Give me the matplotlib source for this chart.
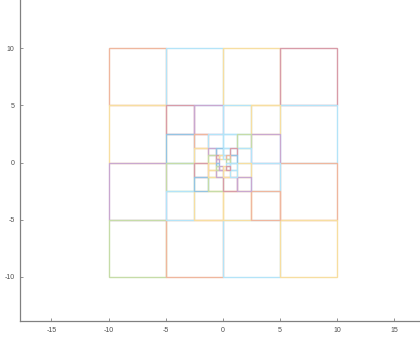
import matplotlib
matplotlib.use("Agg")
import matplotlib.pyplot as plt
from matplotlib.colors import to_rgb
from matplotlib.patches import Rectangle

plt.rcParams.update({
    "font.family": "Liberation Sans",
    "axes.unicode_minus": False,
})

# MATLAB default colour order
PALETTE = {"b": "#0072BD", "o": "#D95319", "y": "#EDB120", "p": "#7E2F8E",
           "g": "#77AC30", "c": "#4DBEEE", "r": "#A2142F"}

# half-width of each ring; every ring is a 4x4 border of 12 squares
ring_half = [10, 5, 2.5, 1.25, 0.625]
# cell colours per ring, border read row by row from the top:
# 4 top cells, left/right of row 2, left/right of row 3, 4 bottom cells
ring_colors = [
    "ocyr" "yc" "po" "gocy",
    "rpcy" "bp" "gc" "cyyo",
    "occg" "yc" "ry" "bgrp",
    "pbcr" "gb" "yc" "ypyc",
    "ryco" "pg" "bc" "gpyr",
]
xticks = [-15, -10, -5, 0, 5, 10, 15]
yticks = [-10, -5, 0, 5, 10]

BORDER = [(0, 0), (0, 1), (0, 2), (0, 3), (1, 0), (1, 3),
          (2, 0), (2, 3), (3, 0), (3, 1), (3, 2), (3, 3)]


def pale(key, k=0.42):
    # wash a palette colour towards white (opaque, so overlaps don't darken)
    return tuple(k * v + (1 - k) for v in to_rgb(PALETTE[key]))


fig = plt.figure(figsize=(4.2, 3.37), dpi=100)
ax = fig.add_axes([20 / 420, 16 / 337, 402 / 420, 322 / 337])

for h, cols in zip(ring_half, ring_colors):
    s = h / 2
    for (i, j), key in zip(BORDER, cols):
        ax.add_patch(Rectangle((-h + j * s, h - (i + 1) * s), s, s, fill=False,
                               ec=pale(key), lw=1.0))

ax.set_xlim(-17.75, 17.45)
ax.set_ylim(-13.85, 14.3)
ax.set_xticks(xticks)
ax.set_yticks(yticks)
ax.tick_params(direction="in", length=2.5, width=0.6, labelsize=5,
               colors="0.5", labelcolor="0.3", pad=4)
for side in ("top", "right"):
    ax.spines[side].set_visible(False)
for side in ("left", "bottom"):
    ax.spines[side].set_color("0.5")
    ax.spines[side].set_linewidth(0.9)

fig.savefig("out.png", dpi=100)
